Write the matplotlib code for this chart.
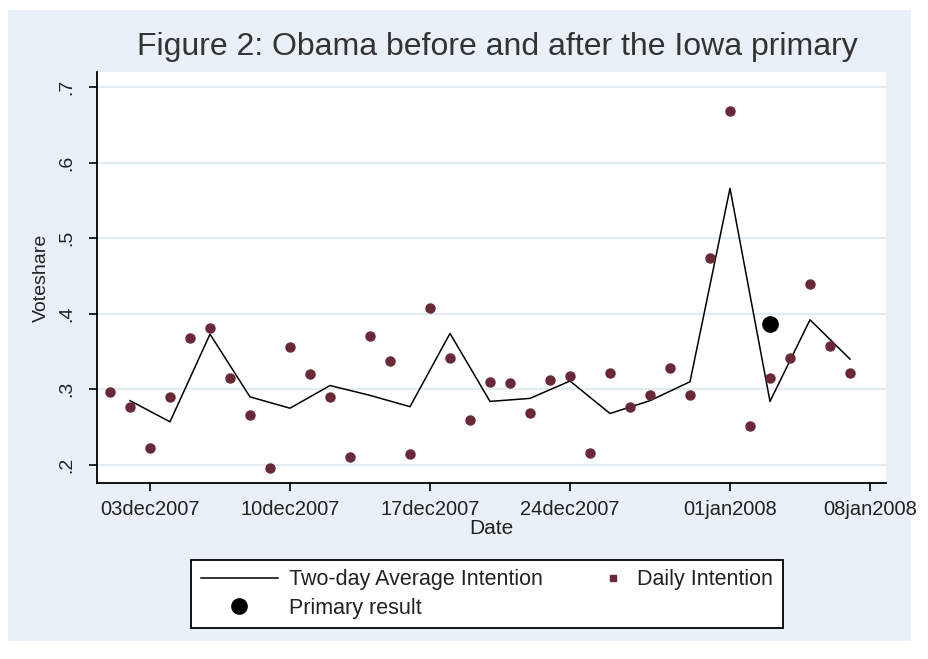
import matplotlib
matplotlib.use("Agg")
import matplotlib.pyplot as plt
from matplotlib.patches import Rectangle
from matplotlib.lines import Line2D
from matplotlib.legend_handler import HandlerLine2D
import numpy as np
import pandas as pd

plt.rcParams['font.family'] = ['Liberation Sans', 'DejaVu Sans']

daily_dates = pd.date_range("2007-12-01", "2008-01-07", freq="D")
daily_values = [0.296, 0.276, 0.222, 0.290, 0.368, 0.381, 0.315, 0.266, 0.196, 0.356,
                0.320, 0.290, 0.211, 0.370, 0.338, 0.215, 0.407, 0.342, 0.260, 0.310,
                0.309, 0.269, 0.312, 0.318, 0.216, 0.321, 0.276, 0.293, 0.328, 0.293,
                0.474, 0.669, 0.252, 0.315, 0.342, 0.440, 0.357, 0.321]

avg_dates = pd.date_range("2007-12-02", "2008-01-07", freq="2D")
avg_values = [0.285, 0.257, 0.373, 0.290, 0.275, 0.305, 0.292, 0.277, 0.374, 0.284,
              0.288, 0.311, 0.268, 0.285, 0.310, 0.566, 0.284, 0.392, 0.340]

primary_date = [pd.Timestamp("2008-01-03")]
primary_value = [0.387]

xtick_dates = pd.to_datetime(["2007-12-03", "2007-12-10", "2007-12-17",
                              "2007-12-24", "2008-01-01", "2008-01-08"])
xtick_labels = ["03dec2007", "10dec2007", "17dec2007", "24dec2007", "01jan2008", "08jan2008"]
ytick_values = [0.2, 0.3, 0.4, 0.5, 0.6, 0.7]
ytick_labels = [".2", ".3", ".4", ".5", ".6", ".7"]


class RightMarkerHandler(HandlerLine2D):
    def create_artists(self, legend, orig_handle, xdescent, ydescent, width, height,
                       fontsize, trans):
        artists = super().create_artists(legend, orig_handle, xdescent, ydescent,
                                         width, height, fontsize, trans)
        x0 = -xdescent
        x1 = -xdescent + width
        for a in artists:
            if isinstance(a, Line2D):
                a.set_xdata(np.array([x0, x0 + 0.82 * (x1 - x0), x1]))
        return artists


W, H = 929, 659
fig = plt.figure(figsize=(W / 100, H / 100), dpi=100, facecolor="white")

bg = "#E9F0F7"
fig.patches.append(Rectangle((8 / W, 1 - 641 / H), (911 - 8) / W, (641 - 10) / H,
                             transform=fig.transFigure, facecolor=bg, edgecolor="none",
                             zorder=-10))

ax = fig.add_axes([97 / W, 1 - 483 / H, (886 - 97) / W, (483 - 72) / H])
ax.set_facecolor("white")

ax.plot(avg_dates, avg_values, color="black", lw=1.1, zorder=3,
        label="Two-day Average Intention")
ax.plot(daily_dates, daily_values, ls="none", marker="o", ms=6.5, color="#682838",
        zorder=4, label="Daily Intention")
ax.plot(primary_date, primary_value, ls="none", marker="o", ms=11, color="black",
        zorder=5, label="Primary result")

x0 = pd.Timestamp("2007-12-03")
ax.set_xlim(x0 - pd.Timedelta(hours=2.65 * 24), x0 + pd.Timedelta(hours=36.8 * 24))
ax.set_ylim(0.176, 0.720)

ax.set_xticks(xtick_dates)
ax.set_xticklabels(xtick_labels, fontsize=14.5)
ax.set_yticks(ytick_values)
ax.set_yticklabels(ytick_labels, fontsize=14, rotation=90, va="center")
ax.tick_params(axis="both", direction="out", length=6, width=1.2, colors="black")
ax.tick_params(axis="x", pad=6)
ax.tick_params(axis="y", pad=10)
for t in ax.get_xticklabels() + ax.get_yticklabels():
    t.set_color("#222222")

ax.yaxis.grid(True, color="#E4ECF1", lw=1.5)
ax.set_axisbelow(True)
for s in ["top", "right"]:
    ax.spines[s].set_visible(False)
for s in ["left", "bottom"]:
    ax.spines[s].set_linewidth(1.3)
    ax.spines[s].set_color("black")

ax.set_xlabel("Date", fontsize=15, labelpad=0.5, color="#222222")
ax.set_ylabel("Voteshare", fontsize=14, labelpad=6, color="#222222")

fig.text(497 / W, 1 - 47 / H, "Figure 2: Obama before and after the Iowa primary",
         ha="center", va="center", fontsize=23, color="#333333")

h_line = Line2D([], [], color="black", lw=1.1)
h_primary = Line2D([], [], ls="none", marker="o", ms=11, color="black")
h_daily = Line2D([], [], ls="none", marker="s", ms=4, color="#682838")
handles = [h_line, h_primary, h_daily]
labels = ["Two-day Average Intention", "Primary result", "Daily Intention"]
leg = fig.legend(handles, labels, ncol=2, loc="center",
                 bbox_to_anchor=(487 / W, 1 - 594 / H), fontsize=15.5,
                 frameon=True, fancybox=False, edgecolor="black", framealpha=1,
                 handlelength=3.6, handletextpad=0.5, columnspacing=0.3,
                 borderpad=0.45, labelspacing=0.35,
                 handler_map={h_daily: RightMarkerHandler()})
for t in leg.get_texts():
    t.set_color("#222222")
leg.get_frame().set_linewidth(1.3)

fig.savefig("out.png", dpi=100, facecolor="white")
